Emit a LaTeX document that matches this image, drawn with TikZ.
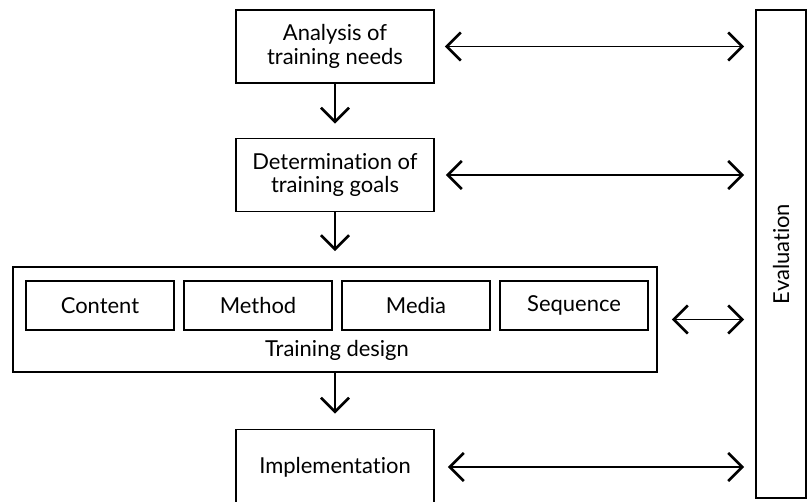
\documentclass[tikz,border=0pt]{standalone}
\usepackage{fontspec}
\setmainfont{Lato}[Ligatures=NoCommon]
\usetikzlibrary{arrows.meta}

\begin{document}
\begin{tikzpicture}[x=0.02cm,y=-0.02cm,
	>={Straight Barb[length=8pt,width=16pt,line width=1.5pt]},
	hop/.style={draw,line width=1pt,minimum width=3.96cm,minimum height=1.46cm,align=center,inner sep=0pt,font=\fontsize{12.5}{13.5}\selectfont},
	hopnho/.style={draw,line width=1pt,minimum width=2.96cm,minimum height=0.98cm,inner sep=0pt,font=\fontsize{12.5}{13.5}\selectfont},
	muiten/.style={line width=0.75pt}]
			\useasboundingbox (0,0) rectangle (808,501);
			% Các hộp chính
			\node[hop] (phantich) at (335,46.5) {Analysis of\\training needs};
			\node[hop] (muctieu) at (335,175) {Determination of\\training goals};
			\node[draw,line width=1pt,minimum width=12.88cm,minimum height=2.1cm] (thietke) at (335,319.5) {};
			\foreach \t[count =\i from 0] in {Content,Method,Media,Sequence}
			\node[hopnho] (o\i) at (100+158*\i,305.5) {\t};
			\node[font=\fontsize{12.5}{13.5}\selectfont] (nhan) at (337,350) {Training design};
			\node[hop,minimum height=1.5cm] (thuchien) at (335,467) {Implementation};
			\node[draw,line width=1pt,rotate=90,minimum width=9.76cm,minimum height=1cm,font=\fontsize{12.5}{13.5}\selectfont] (danhgia) at (781,254) {Evaluation};
			% Vẽ mũi tên
			\draw[muiten,->,shorten >=0.28cm] (phantich.south) -- (muctieu.north);
			\draw[muiten,->,shorten >=0.3cm] (muctieu.south) -- (thietke.north);
			\draw[muiten,->,shorten >=0.3cm] (thietke.south) -- (thuchien.north);
			\foreach \a/\s in {phantich/0.2cm,muctieu/0.22cm,thietke/0.28cm,thuchien/0.26cm}
			\draw[muiten,<->,shorten <=\s,shorten >=0.22cm] (\a.east) -- (\a.east -| danhgia.north);
		\end{tikzpicture}
\end{document}
